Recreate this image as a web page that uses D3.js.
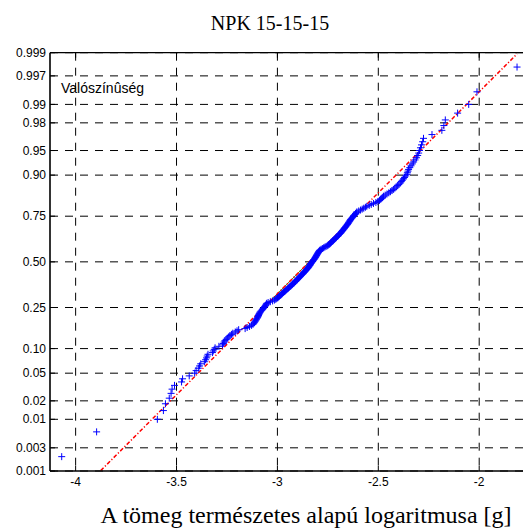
<!DOCTYPE html>
<html>
<head>
<meta charset="utf-8">
<script src="https://cdn.jsdelivr.net/npm/d3@7"></script>
<style>
  html, body { margin: 0; padding: 0; background: #fff; }
  svg { display: block; }
</style>
</head>
<body>
<svg id="chart" width="523" height="529"></svg>
<script>
// Natural log of mass, sorted ascending (250 seeds)
const logMass = [
  -4.069, -3.896, -3.595, -3.565, -3.555, -3.536, -3.527, -3.522, -3.510, -3.475,
  -3.470, -3.437, -3.410, -3.403, -3.392, -3.386, -3.380,
  -3.362, -3.356, -3.351, -3.348, -3.344, -3.322, -3.318, -3.313, -3.309, -3.290,
  -3.272, -3.268, -3.264, -3.260,
  -3.254, -3.248, -3.241, -3.235, -3.228, -3.221, -3.209, -3.200, -3.192,
  -3.160, -3.150, -3.138, -3.128, -3.121, -3.117, -3.113, -3.110, -3.107, -3.104,
  -3.101, -3.098, -3.096, -3.094, -3.092, -3.090, -3.087,
  -3.085, -3.081, -3.077, -3.073, -3.070, -3.066, -3.063, -3.060, -3.057, -3.055,
  -3.053, -3.046, -3.035, -3.024, -3.015, -3.008, -3.003,
  -2.998, -2.994, -2.990, -2.986, -2.982, -2.978, -2.974, -2.970, -2.965, -2.961,
  -2.957, -2.953, -2.949, -2.945, -2.941, -2.937,
  -2.933, -2.929, -2.925, -2.922, -2.918, -2.915, -2.911, -2.908, -2.904, -2.901,
  -2.897, -2.894, -2.891, -2.888, -2.885, -2.881, -2.878, -2.874, -2.871,
  -2.868, -2.865, -2.862, -2.859, -2.856, -2.853, -2.850, -2.847, -2.845, -2.843,
  -2.840, -2.838,
  -2.836, -2.834, -2.831, -2.829, -2.826, -2.824, -2.821, -2.819, -2.816, -2.814,
  -2.812, -2.810, -2.808, -2.806, -2.804, -2.802, -2.800, -2.798, -2.796, -2.794,
  -2.791, -2.788,
  -2.783, -2.777, -2.771, -2.765, -2.759, -2.753, -2.748, -2.743, -2.739,
  -2.736, -2.733, -2.730, -2.726, -2.722, -2.718, -2.714, -2.711, -2.707, -2.704,
  -2.700, -2.697, -2.693, -2.689,
  -2.686, -2.683, -2.680, -2.677, -2.674, -2.671, -2.668, -2.665, -2.662, -2.659,
  -2.656, -2.653, -2.650, -2.648, -2.645, -2.642, -2.640,
  -2.637, -2.634, -2.630, -2.627, -2.623, -2.620, -2.616, -2.613, -2.609, -2.606,
  -2.597, -2.588, -2.580, -2.572, -2.564, -2.557,
  -2.545, -2.535, -2.524, -2.512, -2.502, -2.494, -2.488, -2.483, -2.478, -2.474,
  -2.466, -2.457, -2.448, -2.440, -2.432, -2.424,
  -2.418, -2.411, -2.404, -2.398, -2.391,
  -2.386, -2.381, -2.375, -2.370, -2.364, -2.358, -2.356, -2.353, -2.350,
  -2.344, -2.338, -2.332, -2.325, -2.318, -2.311, -2.305, -2.300,
  -2.296, -2.291, -2.286, -2.280, -2.276,
  -2.234, -2.185, -2.175, -2.168, -2.107, -2.052, -2.011, -1.8125
];

// Fitted normal reference line: values at the lower and upper quartile
const refQuartileP = [0.25, 0.75];
const refQuartileX = [-3.068, -2.616];

// Axis ticks
const xTicks = [-4, -3.5, -3, -2.5, -2];
const xTickLabels = ["-4", "-3.5", "-3", "-2.5", "-2"];
const probTicks = [0.001, 0.003, 0.01, 0.02, 0.05, 0.10, 0.25, 0.50, 0.75, 0.90, 0.95, 0.98, 0.99, 0.997, 0.999];
const probTickLabels = ["0.001", "0.003", "0.01", "0.02", "0.05", "0.10", "0.25", "0.50", "0.75", "0.90", "0.95", "0.98", "0.99", "0.997", "0.999"];

const titleText = "NPK 15-15-15";
const xLabelText = "A tömeg természetes alapú logaritmusa [g]";
const yLabelText = "Valószínûség";

// Inverse standard normal CDF (Acklam's rational approximation)
function probit(p) {
  const a = [-3.969683028665376e+01, 2.209460984245205e+02, -2.759285104469687e+02,
             1.383577518672690e+02, -3.066479806614716e+01, 2.506628277459239e+00];
  const b = [-5.447609879822406e+01, 1.615858368580409e+02, -1.556989798598866e+02,
             6.680131188771972e+01, -1.328068155288572e+01];
  const c = [-7.784894002430293e-03, -3.223964580411365e-01, -2.400758277161838e+00,
             -2.549732539343734e+00, 4.374664141464968e+00, 2.938163982698783e+00];
  const d = [7.784695709041462e-03, 3.224671290700398e-01, 2.445134137142996e+00,
             3.754408661907416e+00];
  const pl = 0.02425, ph = 1 - pl;
  let q, r;
  if (p < pl) {
    q = Math.sqrt(-2 * Math.log(p));
    return (((((c[0]*q+c[1])*q+c[2])*q+c[3])*q+c[4])*q+c[5]) / ((((d[0]*q+d[1])*q+d[2])*q+d[3])*q+1);
  }
  if (p <= ph) {
    q = p - 0.5; r = q * q;
    return (((((a[0]*r+a[1])*r+a[2])*r+a[3])*r+a[4])*r+a[5])*q / (((((b[0]*r+b[1])*r+b[2])*r+b[3])*r+b[4])*r+1);
  }
  q = Math.sqrt(-2 * Math.log(1 - p));
  return -(((((c[0]*q+c[1])*q+c[2])*q+c[3])*q+c[4])*q+c[5]) / ((((d[0]*q+d[1])*q+d[2])*q+d[3])*q+1);
}

const svg = d3.select("#chart");
const W = 523, H = 529;
const plot = { left: 50, top: 52.7, right: 524, bottom: 471 };

svg.append("rect").attr("width", W).attr("height", H).attr("fill", "#fff");

const x = d3.scaleLinear().domain([-4.127, -1.778]).range([plot.left, plot.right]);
const zLim = probit(0.999);
const y = d3.scaleLinear().domain([-zLim, zLim]).range([plot.bottom, plot.top]);
const yp = p => y(probit(p));

svg.append("defs").append("clipPath").attr("id", "plotClip")
  .append("rect")
  .attr("x", plot.left).attr("y", plot.top)
  .attr("width", plot.right - plot.left).attr("height", plot.bottom - plot.top);

// Dashed grid
const grid = svg.append("g").attr("stroke", "#000").attr("stroke-width", 1)
  .attr("stroke-dasharray", "8,7").attr("fill", "none");
grid.selectAll("line.v").data(xTicks).join("line").attr("class", "v")
  .attr("x1", d => x(d)).attr("x2", d => x(d))
  .attr("y1", plot.top).attr("y2", plot.bottom);
grid.selectAll("line.h").data(probTicks).join("line").attr("class", "h")
  .attr("x1", plot.left).attr("x2", plot.right)
  .attr("y1", d => yp(d)).attr("y2", d => yp(d));

// Inward tick marks
const ticks = svg.append("g").attr("stroke", "#000").attr("stroke-width", 1);
ticks.selectAll("line.xb").data(xTicks).join("line").attr("class", "xb")
  .attr("x1", d => x(d)).attr("x2", d => x(d))
  .attr("y1", plot.bottom).attr("y2", plot.bottom - 5);
ticks.selectAll("line.xt").data(xTicks).join("line").attr("class", "xt")
  .attr("x1", d => x(d)).attr("x2", d => x(d))
  .attr("y1", plot.top).attr("y2", plot.top + 5);
ticks.selectAll("line.yl").data(probTicks).join("line").attr("class", "yl")
  .attr("x1", plot.left).attr("x2", plot.left + 5)
  .attr("y1", d => yp(d)).attr("y2", d => yp(d));

// Reference line through the quartiles, extended over the data range
const zq = refQuartileP.map(probit);
const slope = (zq[1] - zq[0]) / (refQuartileX[1] - refQuartileX[0]);
const zAt = v => zq[0] + (v - refQuartileX[0]) * slope;
const xExt = d3.extent(logMass);
const plotArea = svg.append("g").attr("clip-path", "url(#plotClip)");

plotArea.append("line")
  .attr("x1", x(refQuartileX[0])).attr("y1", y(zq[0]))
  .attr("x2", x(refQuartileX[1])).attr("y2", y(zq[1]))
  .attr("stroke", "#1a8a1a").attr("stroke-width", 1);

plotArea.append("line")
  .attr("x1", x(xExt[0])).attr("y1", y(zAt(xExt[0])))
  .attr("x2", x(xExt[1])).attr("y2", y(zAt(xExt[1])))
  .attr("stroke", "#ff0000").attr("stroke-width", 1.5)
  .attr("stroke-dasharray", "4,2,1.2,2");

// Data markers at plotting positions (i - 0.5) / n
const n = logMass.length;
const pts = logMass.map((v, i) => ({ v, z: probit((i + 0.5) / n) }));
const m = 3.5;
plotArea.append("g").attr("stroke", "#0000ff").attr("stroke-width", 1)
  .selectAll("path").data(pts).join("path")
  .attr("d", d => {
    const cx = x(d.v), cy = y(d.z);
    return `M${cx - m},${cy}H${cx + m}M${cx},${cy - m}V${cy + m}`;
  });

// Axes frame
const frame = svg.append("g").attr("stroke", "#000").attr("fill", "none");
frame.append("line").attr("x1", plot.left).attr("x2", plot.left)
  .attr("y1", plot.top).attr("y2", plot.bottom).attr("stroke-width", 1.6);
frame.append("line").attr("x1", plot.left).attr("x2", plot.right)
  .attr("y1", plot.bottom).attr("y2", plot.bottom).attr("stroke-width", 1.6);
frame.append("line").attr("x1", plot.left).attr("x2", plot.right)
  .attr("y1", plot.top).attr("y2", plot.top).attr("stroke-width", 1.3);

// Tick labels
const sans = "'Liberation Sans', Arial, sans-serif";
svg.append("g").selectAll("text").data(probTicks).join("text")
  .attr("x", plot.left - 4).attr("y", d => yp(d)).attr("dy", "0.35em")
  .attr("text-anchor", "end").attr("font-family", sans).attr("font-size", 12)
  .attr("fill", "#000").text((d, i) => probTickLabels[i]);
svg.append("g").selectAll("text").data(xTicks).join("text")
  .attr("x", d => x(d)).attr("y", 486)
  .attr("text-anchor", "middle").attr("font-family", sans).attr("font-size", 12)
  .attr("fill", "#000").text((d, i) => xTickLabels[i]);

// Titles
const serif = "'Liberation Serif', 'Times New Roman', serif";
svg.append("text").attr("x", 270).attr("y", 30).attr("text-anchor", "middle")
  .attr("font-family", serif).attr("font-size", 20).attr("fill", "#000").text(titleText);
svg.append("text").attr("x", 306).attr("y", 523).attr("text-anchor", "middle")
  .attr("font-family", serif).attr("font-size", 24).attr("fill", "#000").text(xLabelText);
svg.append("text").attr("x", 61).attr("y", 93.3)
  .attr("font-family", sans).attr("font-size", 14).attr("fill", "#000").text(yLabelText);
</script>
</body>
</html>
